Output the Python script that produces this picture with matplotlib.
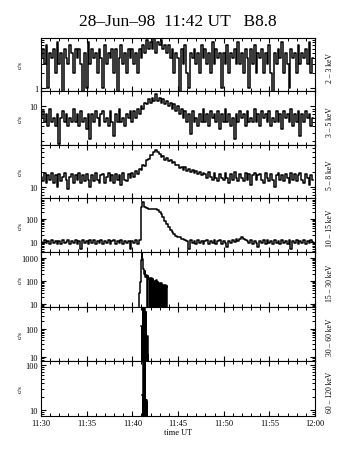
#!/usr/bin/env python3
"""Stacked hard/soft X-ray count-rate panels, 28 Jun 1998 flare."""

import matplotlib

matplotlib.use("Agg")
import matplotlib.pyplot as plt
from matplotlib.ticker import LogLocator, MultipleLocator, NullFormatter, FuncFormatter
import numpy as np

plt.rcParams["font.family"] = ["Liberation Serif", "DejaVu Serif"]

TITLE = "28\u2013Jun\u201398  11:42 UT   B8.8"
TIME_TICKS = [0, 5, 10, 15, 20, 25, 30]  # minutes after 11:30
TIME_LABELS = ["11:30", "11:35", "11:40", "11:45", "11:50", "11:55", "12:00"]
BANDS = ["2 \u2013 3 keV", "3 \u2013 5 keV", "5 \u2013 8 keV", "10 \u2013 15 keV",
         "15 \u2013 30 keV", "30 \u2013 60 keV", "60 \u2013 120 keV"]

SLOW_STEP = 0.2  # minutes (12 s bins)
FAST_STEP = 1 / 15  # minutes (4 s bins)
PEAK_STEP = 1 / 30  # minutes (2 s bins)

# c/s, 12 s bins from 11:30
CNT_2_3 = [
    4, 6, 3, 7, 1, 5, 4, 6, 2, 8,
    3, 5, 0, 6, 4, 3, 7, 5, 2, 6,
    4, 6, 3, 0, 5, 1, 8, 3, 6, 4,
    5, 2, 6, 4, 1, 7, 3, 5, 4, 6,
    2, 6, 0, 4, 7, 3, 5, 2, 6, 4,
    6, 3, 5, 2, 6, 4, 7, 5, 9, 6,
    8, 6, 10, 5, 8, 7, 9, 6, 7, 5,
    7, 4, 6, 2, 5, 4, 0, 6, 3, 7,
    2, 1, 5, 4, 6, 3, 5, 2, 7, 4,
    6, 3, 5, 2, 8, 3, 6, 4, 5, 1,
    5, 3, 7, 2, 5, 4, 6, 3, 8, 3,
    5, 2, 6, 4, 1, 6, 3, 7, 2, 5,
    4, 6, 2, 5, 3, 7, 2, 0, 5, 3,
    6, 4, 8, 2, 5, 3, 1, 6, 4, 5,
    2, 7, 3, 5, 4, 6, 3, 8, 2, 4,
]
CNT_3_5 = [
    6, 8, 5, 7, 4, 9, 5, 6, 4, 7,
    1.8, 6, 8, 5, 7, 4, 6, 5, 9, 5,
    7, 4, 8, 5, 6, 3.5, 7, 2.2, 7, 5,
    8, 6, 4, 7, 8, 5, 6, 4, 8, 5,
    2.6, 7, 5, 9, 5, 6, 4, 7, 6, 8,
    5, 8, 6, 9, 7, 10, 9, 12, 11, 14,
    12, 15, 13, 18, 13, 15, 12, 14, 11, 13,
    10, 12, 9, 11, 8, 10, 7, 9, 6, 8,
    5, 7, 2.8, 8, 5, 6, 4, 7, 5, 9,
    5, 7, 4, 8, 6, 7, 5, 8, 3.5, 7,
    5, 9, 5, 7, 4, 6, 2.2, 7, 5, 8,
    6, 7, 4, 8, 5, 6, 5, 9, 5, 7,
    4, 8, 6, 7, 5, 8, 4, 6, 5, 8,
    5, 7, 3.5, 8, 6, 7, 5, 9, 4, 7,
    5, 8, 2.6, 7, 5, 8, 6, 7, 4, 6,
]
CNT_5_8 = [
    16, 13, 19, 12, 17, 14, 19, 12, 17, 10,
    18, 13, 16, 19, 14, 9, 16, 18, 12, 17,
    14, 19, 12, 17, 13, 18, 14, 10, 17, 13,
    19, 14, 12, 17, 18, 12, 16, 19, 13, 17,
    12, 18, 14, 17, 11, 19, 14, 13, 18, 15,
    19, 16, 21, 18, 23, 22, 27, 26, 34, 36,
    43, 44, 51, 55, 50, 45, 40, 41, 35, 38,
    33, 34, 30, 31, 27, 28, 24, 25, 22, 25,
    21, 23, 20, 22, 19, 21, 18, 20, 17, 19,
    18, 15, 20, 16, 14, 19, 15, 13, 18, 15,
    14, 19, 15, 12, 18, 14, 20, 15, 13, 18,
    15, 13, 19, 14, 18, 11, 17, 19, 14, 17,
    18, 14, 12, 19, 15, 13, 18, 14, 10, 17,
    19, 14, 17, 13, 18, 15, 12, 19, 14, 18,
    13, 17, 19, 14, 12, 18, 15, 11, 17, 14,
]
CNT_10_15 = [
    10, 8, 12, 9, 11, 8, 12, 9, 11, 8,
    11, 8, 12, 9, 10, 12, 8, 11, 9, 12,
    8, 11, 5, 12, 9, 11, 8, 12, 9, 12,
    8, 11, 9, 12, 8, 11, 9, 12, 8, 11,
    12, 8, 11, 9, 12, 8, 11, 9, 11, 5,
    11, 9, 12, 8, 12, 350, 550, 320, 290, 280,
    285, 270, 275, 260, 240, 210, 170, 120, 85, 60,
    45, 34, 27, 22, 19, 17, 16, 14, 13, 12,
    11, 5, 12, 9, 11, 8, 12, 9, 11, 8,
    11, 12, 8, 11, 9, 12, 8, 11, 12, 8,
    11, 9, 6, 11, 9, 12, 10, 13, 11, 14,
    16, 14, 12, 11, 9, 12, 8, 11, 9, 6,
    11, 9, 12, 8, 12, 9, 11, 8, 12, 9,
    11, 8, 12, 9, 11, 8, 12, 5, 11, 9,
    12, 8, 11, 9, 12, 8, 11, 9, 12, 10,
]

# c/s, 4 s bins around the impulsive phase
START_15_30 = 10.6
CNT_15_30 = [
    3, 5, 9, 30, 90, 250, 800, 2500, 900, 320,
    250, 200, 260, 150, 180, 140, 3, 160, 120, 140,
    3, 110, 130, 3, 90, 120, 3, 95, 100, 3,
    80, 110, 3, 90, 70, 3, 85, 75, 3, 80,
    3, 65, 70, 3, 60, 65, 3, 55, 60, 3,
]
# c/s, 2 s bins at the hard X-ray peak
START_30_60 = 11.0
CNT_30_60 = [
    130, 3, 120, 3, 130, 3, 560, 3, 520, 3, 540, 3,
    400, 3, 420, 3, 57, 3, 50, 3, 55, 3, 12, 3,
]
START_60_120 = 11.1
CNT_60_120 = [22, 3, 20, 3, 150, 3, 140, 3, 150, 3, 17, 3, 16, 3, 17, 3, 15, 3]

YLIMS = [(0.89, 9.8), (1.7, 20.4), (6.0, 69), (3.7, 820),
         (7.4, 1820), (7.2, 610), (7.4, 123)]

FIG_W, FIG_H = 355, 464
PANEL_EDGES_PX = [39, 92, 146, 199, 253, 308, 362, 417]
LEFT_PX, RIGHT_PX = 41, 315


def decade_label(v, _pos):
    return f"{v:g}"


def style_panel(ax, ylim, last):
    ax.set_yscale("log")
    ax.set_ylim(*ylim)
    ax.set_xlim(0, 30)
    ax.yaxis.set_major_locator(LogLocator(base=10))
    ax.yaxis.set_minor_locator(LogLocator(base=10, subs=np.arange(2, 10)))
    ax.yaxis.set_major_formatter(FuncFormatter(decade_label))
    ax.yaxis.set_minor_formatter(NullFormatter())
    ax.xaxis.set_major_locator(MultipleLocator(5))
    ax.xaxis.set_minor_locator(MultipleLocator(1))
    ax.tick_params(which="major", direction="in", top=True, right=True,
                   length=3.5, width=0.8, labelsize=6, pad=2)
    ax.tick_params(which="minor", direction="in", top=True, right=True,
                   length=2, width=0.7)
    if last:
        ax.set_xticks(TIME_TICKS)
        ax.set_xticklabels(TIME_LABELS)
        ax.set_xlabel("time UT", fontsize=6, labelpad=1)
    else:
        ax.tick_params(axis="x", labelbottom=False)
    for spine in ax.spines.values():
        spine.set_linewidth(0.8)


def main():
    fig = plt.figure(figsize=(FIG_W / 100, FIG_H / 100), dpi=100)
    fig.text(0.5, 1 - 22 / FIG_H, TITLE, ha="center", va="center", fontsize=12.5)

    t_slow = np.arange(len(CNT_2_3)) * SLOW_STEP
    series = [
        (t_slow, CNT_2_3),
        (t_slow, CNT_3_5),
        (t_slow, CNT_5_8),
        (t_slow, CNT_10_15),
        (START_15_30 + np.arange(len(CNT_15_30)) * FAST_STEP, CNT_15_30),
        (START_30_60 + np.arange(len(CNT_30_60)) * PEAK_STEP, CNT_30_60),
        (START_60_120 + np.arange(len(CNT_60_120)) * PEAK_STEP, CNT_60_120),
    ]

    left = LEFT_PX / FIG_W
    width = (RIGHT_PX - LEFT_PX) / FIG_W
    n = len(series)
    for i, ((t, c), band, ylim) in enumerate(zip(series, BANDS, YLIMS)):
        top_px, bot_px = PANEL_EDGES_PX[i], PANEL_EDGES_PX[i + 1]
        ax = fig.add_axes([left, 1 - bot_px / FIG_H, width, (bot_px - top_px) / FIG_H])
        ax.plot(t, np.asarray(c, dtype=float), drawstyle="steps-mid", color="black", lw=1.1)
        style_panel(ax, ylim, last=(i == n - 1))
        ax.text(-0.075, 0.5, "c/s", transform=ax.transAxes, rotation=90,
                ha="center", va="center", fontsize=5)
        ax.text(1.055, 0.45, band, transform=ax.transAxes, rotation=90,
                ha="center", va="center", fontsize=5.5)

    fig.savefig("out.png", dpi=100)
    plt.close(fig)


if __name__ == "__main__":
    main()
